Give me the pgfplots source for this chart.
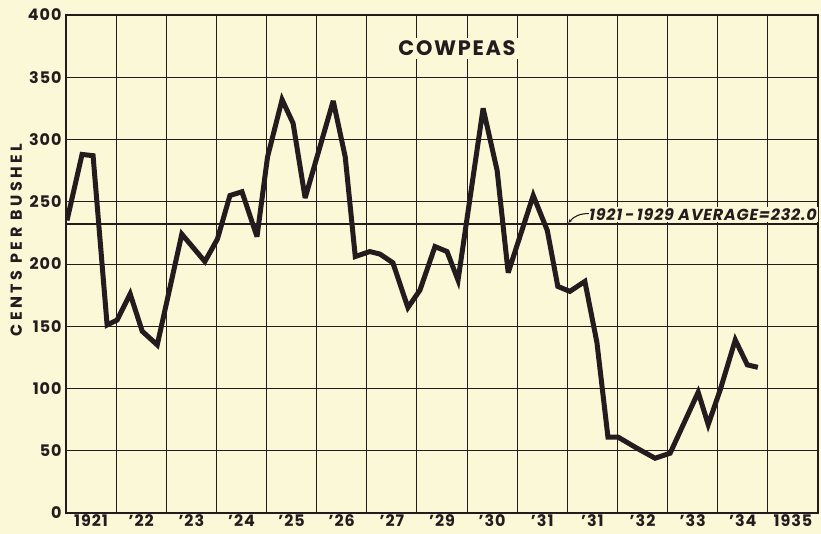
\documentclass[border=0pt]{standalone}
\usepackage{fontspec}
\setmainfont{Poppins}
\usepackage{pgfplots}
\pgfplotsset{compat=1.18}
\usetikzlibrary{arrows.meta}
\definecolor{cream}{RGB}{250,248,214}
\definecolor{ink}{RGB}{35,28,30}
\begin{document}
\begin{tikzpicture}
\path[use as bounding box, fill=cream] (-66bp,-21bp) rectangle (755bp,513bp);
\begin{axis}[
  at={(0,0)}, anchor=south west,
  scale only axis, width=752bp, height=498bp,
  xmin=0, xmax=15, ymin=0, ymax=400,
  clip mode=individual,
  xtick={0.5,1.5,...,14.5},
  xticklabels={1921,'22,'23,'24,'25,'26,'27,'29,'30,'31,'31,'32,'33,'34,1935},
  minor xtick={0,1,...,15},
  ytick={0,50,...,400},
  xminorgrids=true, ymajorgrids=true, xmajorgrids=false,
  grid style={draw=ink, line width=0.9bp},
  minor grid style={draw=ink, line width=0.9bp},
  major tick length=0pt, minor tick length=0pt,
  axis line style={draw=ink, line width=2bp},
  /pgf/number format/assume math mode=true,
  tick label style={font=\bfseries\fontsize{16}{16}\selectfont\addfontfeatures{LetterSpace=6}, text=ink},
  xticklabel style={yshift=2bp},
  yticklabel style={xshift=-1bp},
  ylabel={CENTS PER BUSHEL},
  ylabel style={font=\bfseries\fontsize{16}{16}\selectfont\addfontfeatures{LetterSpace=22}, text=ink, at={(rel axis cs:-0.066,0.548)}, anchor=center, rotate=0},
]
\addplot[draw=ink, line width=1.6bp, forget plot] coordinates {(0,232) (15,232)};
\addplot[draw=ink, line width=5bp, line join=miter, miter limit=4] coordinates {
(0.02,235) (0.32,288) (0.54,287) (0.82,151) (1.02,155) (1.28,176) (1.52,146)
(1.82,135) (2.31,224) (2.77,202) (3.02,220) (3.27,255) (3.51,258) (3.81,222)
(4.02,286) (4.31,332) (4.53,313) (4.77,253) (5.33,331) (5.57,286) (5.77,206)
(6.06,210) (6.26,208) (6.52,201) (6.82,165) (7.06,179) (7.36,214) (7.60,210)
(7.82,187) (8.32,325) (8.60,275) (8.82,193) (9.32,255) (9.60,227) (9.81,182)
(10.05,178) (10.35,186) (10.59,137) (10.81,61) (11.01,61) (11.39,52) (11.75,44)
(12.05,48) (12.61,97) (12.81,71) (13.05,99) (13.35,139) (13.59,119) (13.80,117)
};
\node[fill=cream, inner sep=3bp, text=ink, font=\bfseries\fontsize{21}{21}\selectfont\addfontfeatures{LetterSpace=8}] at (axis cs:7.8,373) {COWPEAS};
\node[anchor=south east, fill=cream, inner xsep=1bp, inner ysep=1.5bp, text=ink, font=\bfseries\itshape\fontsize{16}{16}\selectfont\addfontfeatures{LetterSpace=5}] (lbl) at (axis cs:15,233.5) {1921\,-\,1929 AVERAGE=232.0};
\draw[draw=ink, line width=1.1bp, -{Stealth[length=4bp]}] ([xshift=1bp,yshift=1bp]lbl.west) to[bend right=25] (axis cs:10.02,233);
\end{axis}
\end{tikzpicture}
\end{document}
